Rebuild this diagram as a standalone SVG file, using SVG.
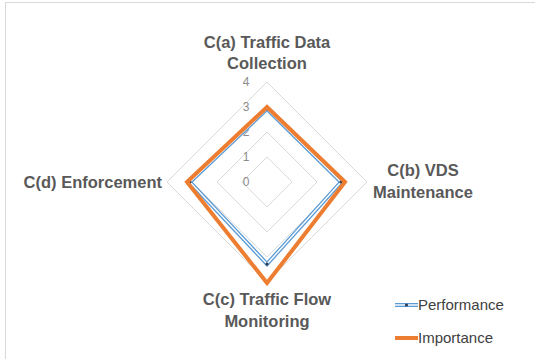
<svg xmlns="http://www.w3.org/2000/svg" width="535" height="359" viewBox="0 0 535 359">
  <style>
    .frame { fill: #ffffff; stroke: #d9d9d9; stroke-width: 1; }
    .grid { fill: none; stroke: #d9d9d9; stroke-width: 1; }
    .tick { font-family: "Liberation Sans", Arial, sans-serif; font-size: 12px; fill: #8c8c8c; text-anchor: middle; }
    .cat { font-family: "Liberation Sans", Arial, sans-serif; font-size: 16.5px; font-weight: bold; fill: #595959; }
    .leg { font-family: "Liberation Sans", Arial, sans-serif; font-size: 15px; fill: #404040; }
    .perf-outer { fill: none; stroke: #5b9bd5; stroke-width: 4; stroke-linejoin: miter; }
    .perf-inner { fill: none; stroke: #ffffff; stroke-width: 1.4; stroke-linejoin: miter; }
    .imp { fill: none; stroke: #ed7d31; stroke-width: 4; stroke-linejoin: miter; }
    .dot { fill: #2f3b52; }
  </style>

  <!-- chart area border -->
  <rect class="frame" x="5.5" y="2.5" width="600" height="400"/>

  <!-- radar grid: levels 1..4, centre (267,182), 25px per unit -->
  <g id="grid">
    <polygon class="grid" points="267,157 292,182 267,207 242,182"/>
    <polygon class="grid" points="267,132 317,182 267,232 217,182"/>
    <polygon class="grid" points="267,107 342,182 267,257 192,182"/>
    <polygon class="grid" points="267,82 367,182 267,282 167,182"/>
  </g>

  <g id="axis-ticks">
    <text class="tick" x="246" y="186">0</text>
    <text class="tick" x="246" y="161">1</text>
    <text class="tick" x="246" y="136">2</text>
    <text class="tick" x="246" y="111">3</text>
    <text class="tick" x="246" y="86">4</text>
  </g>

  <!-- data series -->
  <g id="connectors">
    <g id="series-performance">
      <polygon class="perf-outer" points="267,109 341,182 267,264 190,182"/>
      <polygon class="perf-inner" points="267,109 341,182 267,264 190,182"/>
      <circle class="dot" cx="267" cy="109" r="1.6"/>
      <circle class="dot" cx="341" cy="182" r="1.6"/>
      <circle class="dot" cx="267" cy="264" r="1.6"/>
      <circle class="dot" cx="190" cy="182" r="1.6"/>
    </g>
    <g id="series-importance">
      <polygon class="imp" points="267,107 345,182 267,283 187,182"/>
    </g>
  </g>

  <!-- category labels -->
  <g id="node-ca">
    <text class="cat" x="267" y="48" text-anchor="middle">C(a) Traffic Data</text>
    <text class="cat" x="267" y="69" text-anchor="middle">Collection</text>
  </g>
  <g id="node-cb">
    <text class="cat" x="423" y="176" text-anchor="middle">C(b) VDS</text>
    <text class="cat" x="423" y="198" text-anchor="middle">Maintenance</text>
  </g>
  <g id="node-cc">
    <text class="cat" x="267" y="305" text-anchor="middle">C(c) Traffic Flow</text>
    <text class="cat" x="267" y="327" text-anchor="middle">Monitoring</text>
  </g>
  <g id="node-cd">
    <text class="cat" x="162" y="188" text-anchor="end">C(d) Enforcement</text>
  </g>

  <!-- legend -->
  <g id="legend">
    <line class="perf-outer" x1="395" y1="305" x2="418" y2="305"/>
    <line class="perf-inner" x1="395" y1="305" x2="418" y2="305"/>
    <circle class="dot" cx="406.5" cy="305" r="1.6"/>
    <text class="leg" x="418" y="310">Performance</text>
    <line class="imp" x1="395" y1="338" x2="418" y2="338"/>
    <text class="leg" x="418" y="343">Importance</text>
  </g>
</svg>
